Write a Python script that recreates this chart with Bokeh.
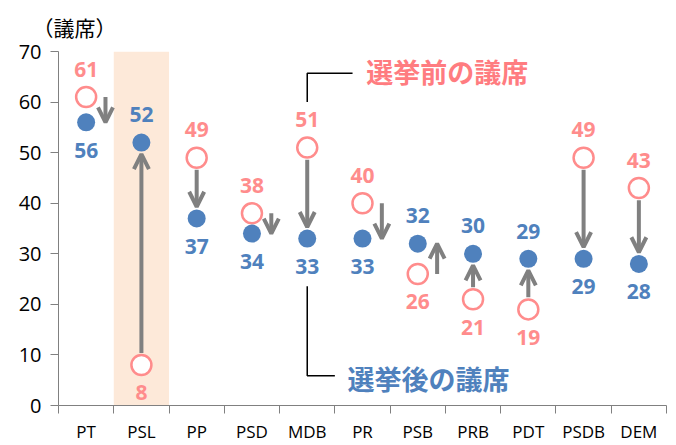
from bokeh.plotting import figure
from bokeh.models import (Range1d, LinearAxis, FixedTicker, CustomJSTickFormatter,
                          ColumnDataSource, Arrow, OpenHead, BoxAnnotation)
from bokeh.core.properties import value
from bokeh.embed import file_html
from bokeh.resources import INLINE

# ---- data ----
parties = ["PT", "PSL", "PP", "PSD", "MDB", "PR", "PSB", "PRB", "PDT", "PSDB", "DEM"]
seats_before = [61, 8, 49, 38, 51, 40, 26, 21, 19, 49, 43]
seats_after = [56, 52, 37, 34, 33, 33, 32, 30, 29, 29, 28]
y_ticks = [0, 10, 20, 30, 40, 50, 60, 70]
highlight = "PSL"
unit_label = "（議席）"
before_text = "選挙前の議席"
after_text = "選挙後の議席"

# ---- styles ----
PINK = "#FF8C8C"
PINK_DARK = "#FF7C80"
BLUE = "#4F81BD"
GRAY = "#808080"
CJK = "Noto Sans CJK JP"
LAT = "Open Sans"
# label side: +1 above, -1 below
before_side = [1, -1, 1, 1, 1, 1, -1, -1, -1, 1, 1]
after_side = [-1, 1, -1, -1, -1, -1, 1, 1, 1, -1, -1]
LABEL_GAP = 5.5      # in value units
SIDE_THRESHOLD = 8
SIDE_OFFSET = 0.35
START_GAP = 2.4
END_GAP = 2.3

n = len(parties)
xc = [i + 0.5 for i in range(n)]

p = figure(width=676, height=445, output_backend="svg", toolbar_location=None,
           x_range=Range1d(0, n), y_range=Range1d(0, 70),
           min_border_left=58, min_border_right=10, min_border_top=49, min_border_bottom=40,
           x_axis_type=None, y_axis_type=None)
p.outline_line_color = None
p.background_fill_color = "white"

# unit label as title
p.title.text = unit_label
p.title.align = "left"
p.title.offset = -26
p.title.text_font = CJK
p.title.text_font_size = "21px"
p.title.text_font_style = "normal"
p.title.text_color = "#000000"
p.title.standoff = 19

# highlight band
hi = parties.index(highlight)
p.add_layout(BoxAnnotation(left=hi, right=hi + 1, bottom=0, top=70,
                           fill_color="#FDE9D9", fill_alpha=1.0, line_color=None,
                           level="image"))

# axes
yaxis = LinearAxis(ticker=FixedTicker(ticks=y_ticks))
yaxis.axis_line_color = GRAY
yaxis.major_tick_line_color = GRAY
yaxis.major_tick_out = 8
yaxis.major_tick_in = 0
yaxis.minor_tick_line_color = None
yaxis.major_label_text_font = LAT
yaxis.major_label_text_font_size = "20px"
yaxis.major_label_text_color = "#000000"
yaxis.major_label_standoff = 9
p.add_layout(yaxis, "left")

xaxis = LinearAxis(ticker=FixedTicker(ticks=xc, minor_ticks=list(range(n + 1))),
                   formatter=CustomJSTickFormatter(args=dict(names=parties),
                                                   code="return names[Math.floor(tick)] || ''"))
xaxis.axis_line_color = GRAY
xaxis.major_tick_line_color = None
xaxis.major_tick_out = 0
xaxis.major_tick_in = 0
xaxis.minor_tick_line_color = GRAY
xaxis.minor_tick_out = 8
xaxis.minor_tick_in = 0
xaxis.major_label_text_font = LAT
xaxis.major_label_text_font_size = "17px"
xaxis.major_label_text_color = "#000000"
xaxis.major_label_standoff = 6
p.add_layout(xaxis, "below")

p.ygrid.ticker = FixedTicker(ticks=y_ticks)
p.ygrid.grid_line_color = "#BFBFBF"
p.ygrid.grid_line_dash = "4 3"
p.xgrid.grid_line_color = None

# markers
p.scatter(xc, seats_before, size=20, fill_color="white", line_color=PINK, line_width=2.5)
p.scatter(xc, seats_after, size=18, fill_color=BLUE, line_color=None)

# arrows
xs, ys, xe, ye = [], [], [], []
for i in range(n):
    b, a = seats_before[i], seats_after[i]
    d = 1 if a > b else -1
    if abs(a - b) < SIDE_THRESHOLD:
        xs.append(xc[i] + SIDE_OFFSET); xe.append(xc[i] + SIDE_OFFSET)
        ys.append(b); ye.append(a)
    else:
        xs.append(xc[i]); xe.append(xc[i])
        ys.append(b + d * START_GAP); ye.append(a - d * END_GAP)
asrc = ColumnDataSource(dict(xs=xs, ys=ys, xe=xe, ye=ye))
p.add_layout(Arrow(x_start="xs", y_start="ys", x_end="xe", y_end="ye", source=asrc,
                   line_color=GRAY, line_width=4,
                   end=OpenHead(size=15, line_color=GRAY, line_width=4)))

# value labels
p.text(xc, [v + s * LABEL_GAP for v, s in zip(seats_before, before_side)],
       text=[str(v) for v in seats_before], text_color=PINK,
       text_font=value(LAT), text_font_style="bold", text_font_size="21px",
       text_align="center", text_baseline="middle")
p.text(xc, [v + s * LABEL_GAP for v, s in zip(seats_after, after_side)],
       text=[str(v) for v in seats_after], text_color=BLUE,
       text_font=value(LAT), text_font_style="bold", text_font_size="21px",
       text_align="center", text_baseline="middle")

# callouts
mdb = parties.index("MDB")
cx = xc[mdb]
p.line([cx, cx, cx + 0.82], [60, 65.7, 65.7], line_color="black", line_width=1.5)
p.text([cx + 1.07], [66.1], text=[before_text], text_color=PINK_DARK,
       text_font=value(CJK), text_font_style="bold", text_font_size="27px",
       text_align="left", text_baseline="middle")
p.line([cx, cx, cx + 0.5], [23.6, 5.9, 5.9], line_color="black", line_width=1.5)
p.text([cx + 0.73], [5.3], text=[after_text], text_color=BLUE,
       text_font=value(CJK), text_font_style="bold", text_font_size="27px",
       text_align="left", text_baseline="middle")

open("out.html", "w").write(file_html(p, INLINE))
